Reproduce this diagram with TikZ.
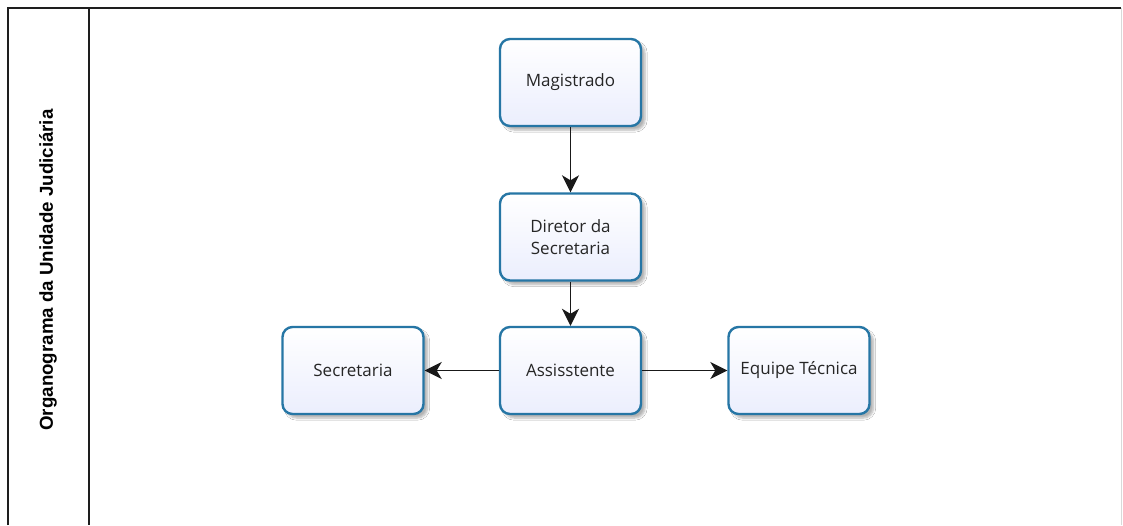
\documentclass[tikz,border=0pt]{standalone}
\usepackage{fontspec}
\setmainfont{Open Sans}
\newfontfamily\titlefont{Liberation Sans}
\usetikzlibrary{arrows.meta,shadows.blur}
\definecolor{boxborder}{RGB}{38,118,165}
\definecolor{boxfillA}{RGB}{255,255,255}
\definecolor{boxfillB}{RGB}{235,238,253}
\definecolor{framecol}{RGB}{30,30,30}
\begin{document}
\begin{tikzpicture}[x=1pt,y=-1pt,
  orgbox/.style={draw=boxborder, line width=2.4pt, rounded corners=10pt,
    minimum width=141pt, minimum height=87pt, align=center,
    font=\fontsize{17}{22}\selectfont, text=black!85,
    top color=boxfillA, bottom color=boxfillB,
    blur shadow={shadow xshift=4pt, shadow yshift=-4pt, shadow blur steps=6, shadow opacity=30}},
  link/.style={draw=black!90, line width=1.6pt, -{Stealth[length=17pt,width=17pt,inset=5pt]}},
  frame/.style={draw=framecol, line width=1.8pt}
]
\useasboundingbox (0,0) rectangle (1123,525);
\fill[white] (0,0) rectangle (1123,525);

% table frame around the chart
\draw[frame] (8,525) -- (8,8) -- (1121,8);
\draw[frame] (89,8) -- (89,525);
\draw[draw=black!15, line width=1pt] (1121,8) -- (1121,525);

% heading in the first column
\node[rotate=90, font=\titlefont\bfseries\fontsize{18.7}{22}\selectfont] (title) at (48,270) {Organograma da Unidade Judiciária};

% org chart boxes
\node[orgbox] (mag) at (570.5,82.5) {Magistrado};
\node[orgbox] (dir) at (570.5,237) {Diretor da\\Secretaria};
\node[orgbox] (ass) at (570.5,370.5) {Assisstente};
\node[orgbox] (sec) at (353,370.5) {Secretaria};
\node[orgbox] (eqp) at (799,370.5) {Equipe Técnica};

% reporting lines
\draw[link] (mag.south) -- (dir.north);
\draw[link] (dir.south) -- (ass.north);
\draw[link] (ass.west) -- (sec.east);
\draw[link] (ass.east) -- (eqp.west);
\end{tikzpicture}
\end{document}
